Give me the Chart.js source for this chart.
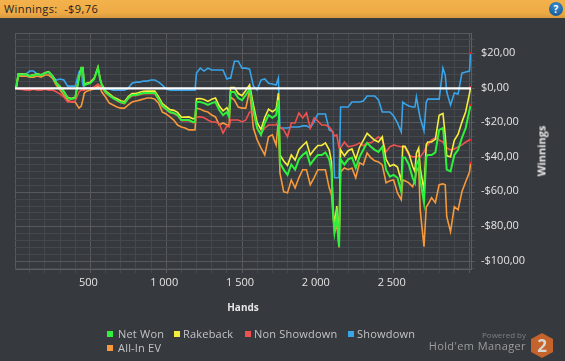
<!DOCTYPE html>
<html><head><meta charset="utf-8">
<script src="https://cdn.jsdelivr.net/npm/chart.js@4"></script>
<style>
html,body{margin:0;padding:0;background:#36393d;width:565px;height:361px;overflow:hidden;font-family:"Open Sans",sans-serif}
#bar{position:absolute;left:0;top:0;width:565px;height:18px;background:linear-gradient(#f4b24c,#eeaa45 70%,#d99a3e);color:#222;font-size:11px;line-height:17px}
#bar span{position:absolute;left:4px;top:0;letter-spacing:.4px;white-space:pre}
#help{position:absolute;left:549px;top:2px;width:14px;height:14px;border-radius:7px;background:radial-gradient(circle at 50% 30%,#3b8fd0,#0f4f8c);color:#fff;font:bold 10px/14px "Open Sans",sans-serif;text-align:center}
canvas{position:absolute;left:0;top:0}
#ytitle{position:absolute;left:541px;top:151px;color:#e6e6e6;font:bold 11px "Open Sans",sans-serif;transform:translate(-50%,-50%) rotate(-90deg);white-space:nowrap}
.lg{position:absolute;color:#c2c4c6;font-size:11px;line-height:14px;white-space:nowrap;letter-spacing:.2px}
.sw{position:absolute;width:6px;height:6px}
#pw{position:absolute;right:39px;top:329px;color:#7e8184;font-size:8px;line-height:11px}
#hm{position:absolute;right:39px;top:338px;color:#9b9d9f;font-size:11px;line-height:15px;letter-spacing:.4px;white-space:nowrap}
#hex{position:absolute;left:530px;top:333px}
</style></head><body>
<canvas id="c" width="565" height="361"></canvas>
<div id="bar"><span>Winnings:  -$9,76</span><div id="help">?</div></div>
<div id="ytitle">Winnings</div>
<div id="legend"></div>
<div id="pw">Powered by</div>
<div id="hm">Hold'em Manager</div>
<svg id="hex" width="24" height="25" viewBox="0 0 24 25"><polygon points="12,0 23,6 23,19 12,25 1,19 1,6" fill="#c4632b"/><text x="12" y="19" text-anchor="middle" font-family="Open Sans" font-weight="bold" font-size="17" fill="#d9d6d2">2</text></svg>
<script>
const hands=[10,25,50,75,100,125,150,175,200,225,
250,275,300,325,350,375,400,425,440,450,
460,475,500,525,550,565,575,600,625,650,
675,700,725,750,775,800,825,850,875,900,
925,950,975,1000,1025,1050,1075,1100,1125,1150,
1175,1190,1200,1225,1250,1275,1300,1325,1350,1375,
1400,1415,1425,1450,1475,1500,1525,1550,1575,1600,
1625,1650,1675,1700,1725,1740,1750,1775,1800,1825,
1850,1875,1900,1925,1950,1975,2000,2025,2050,2075,
2090,2100,2110,2125,2140,2150,2175,2200,2225,2250,
2275,2300,2325,2350,2375,2400,2425,2450,2475,2500,
2525,2550,2560,2575,2600,2625,2640,2650,2665,2675,
2700,2715,2725,2750,2775,2800,2825,2840,2850,2875,
2900,2925,2950,2975,3000,3008];
const netWon=[0,8.2,8.2,8,7.1,7.6,8.2,7.6,8.8,9.4,
7.1,3,0.7,-2,-5.6,-6.2,-5.6,6,11.7,11.7,
1.9,2.4,3,5.3,11.7,4.8,1.9,-2.1,-3.9,-5.6,
-6.8,-7.9,-8.5,-5.6,-3.9,-3.9,-3.3,-2.7,-2.7,-2.7,
-2.7,-6.2,-10.2,-11.9,-13.7,-14.2,-15.4,-18.3,-18.3,-18.3,
-19.4,-19.4,-7.9,-7.9,-8.5,-9.6,-8.5,-7.9,-12.5,-15.4,
-13.7,-16.5,-2.1,-2.1,-5.6,-6.8,-3.9,-0.5,-12.5,-23,
-27,-20,-15.4,-17,-15.4,-6.8,-43,-47,-50,-44,
-47,-41,-38.5,-36.7,-44,-41,-38.5,-38.5,-37,-41,
-48,-73,-83,-73,-91.5,-41,-44,-41,-40,-46,
-39.6,-35.5,-31.5,-33.8,-35.5,-36.7,-33.8,-47,-51,-50,
-51.7,-59.8,-40,-40,-44,-51.7,-54.6,-44,-41.3,-52.9,
-66,-39.6,-38.5,-38.5,-37,-24,-22.9,-35.6,-47,-48,
-38.5,-35.5,-28.6,-22.9,-12.5,-9.76];
const rakeback=[0,8.4,8.4,8.2,7.3,7.8,8.4,7.8,9,9.6,
7.3,3.3,1,-1.6,-5.2,-5.8,-5.2,6.4,12,12,
2.4,2.9,3.6,5.9,12.3,5.4,2.5,-1.5,-3.2,-4.9,
-6,-7.1,-7.7,-4.8,-3,-3,-2.3,-1.7,-1.6,-1.6,
-1.5,-5,-8.9,-10.5,-12.3,-12.7,-13.9,-16.7,-16.6,-16.5,
-17.5,-17.5,-6,-5.9,-6.4,-7.5,-6.3,-5.6,-10.2,-13,
-11.2,-14,0.4,0.4,-3,-4.2,-1.2,2,-9.5,-19.8,
-23.8,-16.8,-12,-13.5,-12,-2.8,-38.5,-42,-44.5,-38.5,
-41.5,-35.5,-33,-31,-38.5,-35.5,-33,-33,-31.5,-35.5,
-42.5,-68.5,-79,-68,-87.5,-35.5,-39,-36,-35,-41,
-34,-30,-26,-28,-30,-31,-28,-41,-45,-44,
-45.5,-53.5,-33.5,-33.5,-37.5,-45,-48,-37.5,-34.5,-46,
-59,-32.5,-31,-31,-29.5,-15.5,-14.5,-27,-39,-39.5,
-30,-26.5,-19.5,-13.5,-3,0.8];
const nonShowdown=[0,-0.5,-0.6,-1,-1,-0.5,-1,-1,-0.5,-1,
-1,-2,-3.3,-5,-7.8,-7.8,-7.3,-2.1,-1,-1,
-1,0,0,0.8,2.5,1.3,0.2,-2.7,-4.4,-5.6,
-7.2,-8.3,-8.9,-6,-4.3,-4.3,-3.7,-3.1,-3.1,-3.1,
-3.1,-6.6,-10.6,-12.3,-14.1,-14.6,-15.8,-18.7,-18.7,-18.7,
-19.8,-19.8,-16.5,-16.5,-17,-18.3,-19.4,-19.4,-20.5,-25.8,
-21.7,-22.3,-18.3,-18.3,-18.3,-19.4,-18.3,-13.7,-13.7,-22.9,
-26.3,-22.9,-21.2,-21.2,-21.2,-19.4,-22.3,-24,-28,-20,
-20,-14.2,-17.1,-14.2,-22.9,-17.1,-18.9,-21.2,-21.2,-22.3,
-24,-25.8,-27.5,-26.9,-34.4,-34.4,-31,-33.8,-33.3,-32.7,
-31.5,-33.3,-31.5,-31.5,-29.8,-28,-29.8,-36.7,-33.8,-32.7,
-33.3,-33.8,-33.3,-34.4,-38.5,-39.6,-39.6,-39.6,-39,-39.6,
-36.7,-33.8,-32.7,-29.8,-28.6,-29.8,-31,-33.3,-34.4,-35.6,
-35,-33.8,-32.7,-31,-29.8,-30];
const showdown=[0,7.7,7.7,8.2,10,10,8.2,7.7,8.8,9.4,
7.1,4.8,5.4,4.8,1.3,1.3,1.3,9.4,11.1,1.9,
0.7,0.2,0.2,-0.4,-0.4,-0.4,-0.4,-0.4,-0.4,-1,
-1,-1,-1,0.2,3,3.6,3.6,4.2,4.2,4.8,
4.8,3.6,1.9,-0.4,-1,-1,-1,-1,-1,-1,
-1,-1,8.8,11.7,10,11.7,10.6,10.6,10.6,10.6,
5.4,5.9,5.9,15.7,15.7,11.7,11.7,11.1,1.3,-1,
4.8,5.4,3,2.5,1.9,5.9,-22.9,-22.9,-22.9,-22.3,
-22.3,-22.3,-21.7,-21.7,-22.9,-19.4,-14.8,-14.8,-14.8,-24,
-24.6,-25.2,-51.7,-51.7,-51.7,-10.8,-10.8,-10.8,-7.9,-7.9,
-7.9,-7.3,-4.4,-4.4,-4.4,-6.7,-13.7,-13.7,-13.7,-16,
-20,-25.2,-7.9,-9,-10.2,-10.8,-10.8,-5,-12.5,-17.1,
-24.6,-7.9,-6.2,-6.2,-6.2,-6.2,11.7,7.7,-2.1,-9.6,
-2.7,-3.3,8.8,9.4,10,20.4];
const allInEV=[0,7.1,7.1,7.1,6.5,6.5,7.1,6.5,7.7,7.7,
5.9,1.9,-1,-3.9,-6.8,-7.9,-7.9,-11.4,-10.2,-6.8,
-2.7,-1.6,-1,-0.4,1.3,0.2,-2.1,-5,-8.5,-9.6,
-10.8,-11.4,-11.4,-9.6,-7.9,-7.3,-6.8,-6.2,-5.6,-5.6,
-6.2,-8.5,-13.7,-14.8,-16.5,-18.3,-21.2,-22.3,-22.9,-24,
-24,-24,-11.4,-12,-13.1,-13.7,-15.4,-16.5,-21.2,-20,
-21.2,-21.2,-5,-6.8,-10.8,-11.4,-11.4,-1,-22.9,-29.8,
-34.4,-38.5,-28,-26.9,-32.7,-18.3,-48.8,-59.8,-60.4,-52.9,
-57.5,-51.7,-47,-47,-55.7,-51.7,-47,-47,-47,-57.5,
-61.5,-71.9,-83.4,-78.8,-92,-48.3,-46,-47,-46,-51.7,
-43,-44.2,-37.3,-40.2,-41.9,-42.5,-44.2,-54.6,-53.4,-52.9,
-60.4,-64.4,-52.9,-53.4,-54.6,-56.9,-52.9,-48.3,-45.4,-70.2,
-91.5,-68.4,-67.3,-63.2,-66.1,-55.7,-55.2,-55.7,-74.2,-82.8,
-68.4,-70.2,-59.8,-54,-48.3,-43];
const seriesNames=["Net Won","Rakeback","Non Showdown","Showdown","All-In EV"];
const seriesColors=["#2ff03c","#f6ee3c","#ef5150","#38a4ea","#f7983a"];
const yTicks=[32];for(let v=28;v>=-104;v-=4)yTicks.push(v);
const xTicks=[3];for(let v=100;v<=3000;v+=100)xTicks.push(v);
const xLabels={500:"500",1000:"1 000",1500:"1 500",2000:"2 000",2500:"2 500"};
const yLabels={20:"$20,00",0:"$0,00",[-20]:"-$20,00",[-40]:"-$40,00",[-60]:"-$60,00",[-80]:"-$80,00",[-100]:"-$100,00"};

const mk=(i,vals,w)=>({label:seriesNames[i],data:hands.map((h,k)=>({x:h,y:vals[k]})),borderColor:seriesColors[i],borderWidth:w,tension:0,
  pointRadius:c=>c.dataIndex===hands.length-1?1:0,pointBackgroundColor:"#f01010",pointBorderWidth:0});
const ds=[
 {label:"Zero",data:[{x:3,y:0},{x:3010,y:0}],borderColor:"#ffffff",borderWidth:2.4,pointRadius:0},
 mk(0,netWon,2),mk(1,rakeback,1.6),mk(2,nonShowdown,1.6),mk(4,allInEV,1.6),mk(3,showdown,1.6)
];
const minorC="#45484c",majorC="#57595c";
const isMajorX=c=>c.tick&&(c.tick.value%500===0||c.tick.value===3);
const isMajorY=c=>c.tick&&(c.tick.value%20===0||c.tick.value===32);
new Chart(document.getElementById("c"),{type:"line",data:{datasets:ds},options:{
 responsive:false,animation:false,devicePixelRatio:1,
 layout:{padding:{left:15,top:33,right:0,bottom:0}},
 plugins:{legend:{display:false},tooltip:{enabled:false}},
 scales:{
  x:{type:"linear",min:3,max:3010,
   afterFit:s=>{s.height=92},
   afterBuildTicks:s=>{s.ticks=xTicks.map(v=>({value:v}))},
   grid:{color:c=>isMajorX(c)?majorC:minorC,tickColor:c=>c.tick&&c.tick.value===3?"transparent":(isMajorX(c)?majorC:minorC),tickLength:4,lineWidth:1},
   border:{color:"#5c5e61",width:1},
   ticks:{autoSkip:false,maxRotation:0,padding:3,labelOffset:-2,color:"#e4e4e4",font:{family:"Open Sans",size:11},callback:v=>xLabels[v]||""},
   title:{display:true,text:"Hands",color:"#e6e6e6",font:{family:"Open Sans",size:10,weight:"bold"},padding:{top:0,bottom:47}}
  },
  y:{type:"linear",position:"right",min:-104.4,max:32,
   afterFit:s=>{s.width=94},
   afterBuildTicks:s=>{s.ticks=yTicks.map(v=>({value:v}))},
   grid:{color:c=>isMajorY(c)?majorC:minorC,tickColor:c=>c.tick&&c.tick.value===32?"transparent":(isMajorY(c)?majorC:minorC),tickLength:4,lineWidth:1},
   border:{color:"#5c5e61",width:1},
   ticks:{autoSkip:false,padding:6,labelOffset:-1,color:"#e4e4e4",font:{family:"Open Sans",size:11},callback:v=>yLabels[v]||""}
  }
 }}});
const lgPos=[[105,331,118,327],[172,331,183,327],[243,331,254,327],[346,331,357,327],[105,345,118,341]];
const lg=document.getElementById("legend");
seriesNames.forEach((n,i)=>{const p=lgPos[i];
 const s=document.createElement("div");s.className="sw";s.style.cssText=`left:${p[0]+2}px;top:${p[1]}px;background:${seriesColors[i]}`;lg.appendChild(s);
 const t=document.createElement("div");t.className="lg";t.textContent=n;t.style.cssText=`left:${p[2]}px;top:${p[3]}px`;lg.appendChild(t);});
</script>
</body></html>
